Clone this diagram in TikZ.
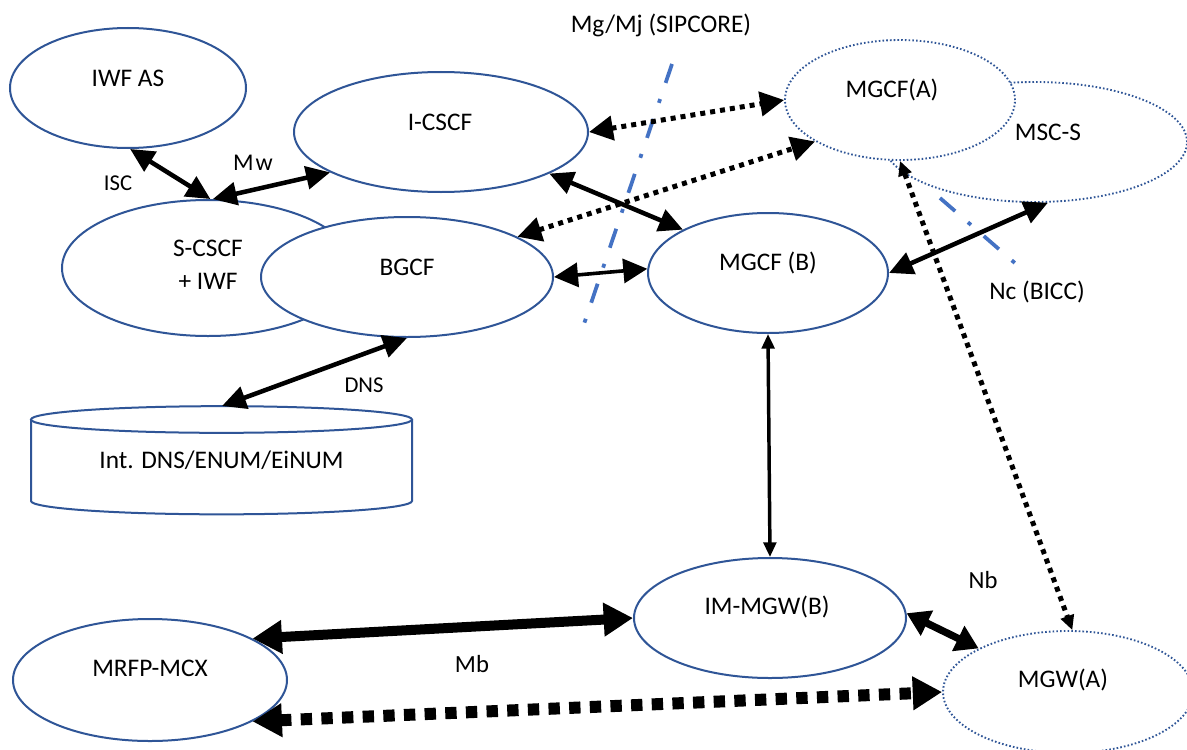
\documentclass[tikz,border=0pt]{standalone}
\usepackage{fontspec}
\setmainfont{Carlito}
\usetikzlibrary{shapes.geometric,arrows.meta}
\definecolor{ellblue}{HTML}{2F5597}
\definecolor{lineblue}{HTML}{4472C4}
\begin{document}
\begin{tikzpicture}[x=0.75pt,y=-0.75pt,
  ell/.style={ellipse,draw=ellblue,line width=1.5pt,fill=white,inner sep=0pt},
  dell/.style={ellipse,draw=ellblue,line width=1.4pt,dash pattern=on 1.2pt off 1.6pt,fill=white,inner sep=0pt},
  lbl/.style={font=\fontsize{19}{24.75}\selectfont,inner sep=0pt,align=center},
  slbl/.style={font=\fontsize{17}{20}\selectfont,inner sep=0pt},
  mlbl/.style={font=\fontsize{18.5}{21}\selectfont,inner sep=0pt},
  conn/.style={line width=3.4pt,>={Triangle[length=18pt,width=17pt]},<->},
  medconn/.style={line width=2.7pt,>={Triangle[length=18pt,width=18pt]},<->},
  dconn/.style={line width=3.75pt,dash pattern=on 3.75pt off 3.75pt,>={Triangle[length=18pt,width=18pt]},<->},
  thinconn/.style={line width=2.6pt,>={Triangle[length=11pt,width=9.5pt]},<->},
  dthinconn/.style={line width=3.75pt,dash pattern=on 3.75pt off 3.75pt,>={Triangle[length=11pt,width=10pt]},<->},
  nbconn/.style={line width=5.5pt,>={Triangle[length=17pt,width=20pt]},<->},
  bigconn/.style={line width=7.5pt,>={Triangle[length=22pt,width=24pt]},<->},
  bigdconn/.style={line width=9pt,dash pattern=on 8.5pt off 7pt,>={Triangle[length=22pt,width=24pt]},<->},
  mgline/.style={lineblue,line width=2.8pt,dash pattern=on 15pt off 12.75pt on 3pt off 12.75pt}]
\useasboundingbox (0,0) rectangle (1187,749);
\clip (0,0) rectangle (1187,749);
\fill[white] (0,0) rectangle (1187,749);
% ellipses
\node[ell,minimum width=177pt,minimum height=90pt] (iwfas) at (128,88) {};
\node[ell,minimum width=220.5pt,minimum height=90pt] (icscf) at (441,132) {};
\node[ell,minimum width=219pt,minimum height=102pt] (scscf) at (208,268) {};
\node[ell,minimum width=219pt,minimum height=90pt] (bgcf) at (407,277) {};
\node[ell,minimum width=205.5pt,minimum height=91.5pt] (mrfp) at (150,680) {};
\node[dell,minimum width=228pt,minimum height=90pt] (mscs) at (1035,142) {};
\node[dell,minimum width=172.5pt,minimum height=90pt] (mgcfa) at (900,100) {};
\node[ell,minimum width=180pt,minimum height=90pt] (mgcfb) at (768,273) {};
\node[ell,minimum width=204pt,minimum height=90pt] (immgw) at (770,618) {};
\node[dell,minimum width=187.5pt,minimum height=91.5pt] (mgwa) at (1068,692) {};
% database cylinder
\draw[ellblue,line width=1.5pt,fill=white] (31,419.5) -- (31,501) arc[start angle=180,end angle=360,x radius=142.875pt,y radius=10pt] -- (412,419.5);
\draw[ellblue,line width=1.5pt,fill=white] (221.5,419.5) ellipse [x radius=142.875pt,y radius=10pt];
\coordinate (dbtop) at (222,406);
% texts
\node[lbl] (iwfas-t) at (128,78) {IWF AS};
\node[lbl] (icscf-t) at (440,122) {I-CSCF};
\node[lbl] (scscf-t) at (208,265) {S-CSCF\\+ IWF};
\node[lbl] (bgcf-t) at (407,267) {BGCF};
\node[lbl] (db-t) at (221.5,460) {Int. DNS/ENUM/EiNUM};
\node[lbl] (mrfp-t) at (150,668) {MRFP-MCX};
\node[lbl] (mgcfa-t) at (892,90) {MGCF(A)};
\node[lbl] (mscs-t) at (1048,132) {MSC-S};
\node[lbl] (mgcfb-t) at (768,263) {MGCF (B)};
\node[lbl] (immgw-t) at (767,607) {IM-MGW(B)};
\node[lbl] (mgwa-t) at (1063,680) {MGW(A)};
\node[lbl] (sipcore) at (661,25) {Mg/Mj (SIPCORE)};
\node[lbl] (nc) at (1037,292) {Nc (BICC)};
\node[mlbl] (nb) at (983,580) {Nb};
\node[mlbl] (mb) at (472,664) {Mb};
\node[slbl] (dns) at (364,385) {DNS};
\node[slbl] (isc) at (118,183) {ISC};
\node[slbl,font=\fontsize{18}{20}\selectfont] (mw) at (253,163) {M\kern0.08em w};
% reference-point lines
\coordinate (mg1) at (672,64);
\coordinate (mg2) at (584,324);
\coordinate (nc1) at (940,198);
\coordinate (nc2) at (1016,264);
\draw[mgline] (mg1) -- (mg2);
\draw[mgline] (nc1) -- (nc2);
% connectors
\draw[conn] (iwfas.-88) -- (scscf.88);
\draw[conn] (scscf.86) -- (icscf.200);
\draw[conn] (icscf.339) -- (mgcfb.153);
\draw[dconn] (icscf.0) -- (mgcfa.180);
\draw[dconn] (bgcf.20) -- (mgcfa.206);
\draw[medconn] (bgcf.0) -- (mgcfb.178);
\draw[conn] (bgcf.270) -- (dbtop);
\draw[conn] (mgcfb.0) -- (mscs.282);
\draw[thinconn] (mgcfb.270) -- (immgw.90);
\draw[dthinconn] (mgcfa.270) -- (mgwa.86);
\draw[bigconn] (immgw.180) -- (mrfp.22);
\draw[bigdconn] (mrfp.338) -- (mgwa.180);
\draw[nbconn] (immgw.2) -- (mgwa.154);
\end{tikzpicture}
\end{document}
